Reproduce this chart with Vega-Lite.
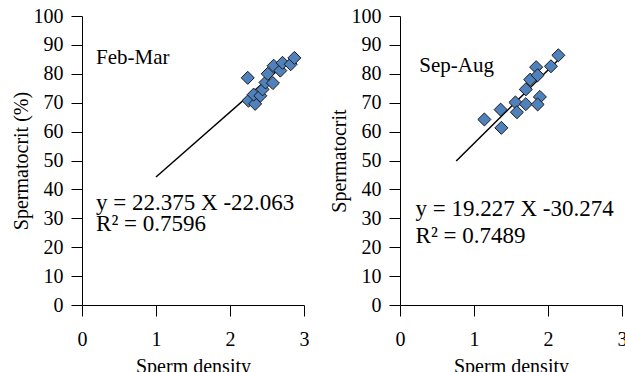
{
  "$schema": "https://vega.github.io/schema/vega-lite/v6.json",
  "padding": {"left": 11, "top": 6, "right": 0, "bottom": 0},
  "background": "white",
  "datasets": {
    "ptsL": [
      {"x": 2.24, "y": 78.6}, {"x": 2.25, "y": 70.7}, {"x": 2.34, "y": 69.6}, {"x": 2.32, "y": 72.8},
      {"x": 2.41, "y": 72.4}, {"x": 2.44, "y": 74.6}, {"x": 2.48, "y": 77.0}, {"x": 2.58, "y": 76.8},
      {"x": 2.51, "y": 80.0}, {"x": 2.59, "y": 82.8}, {"x": 2.68, "y": 81.1}, {"x": 2.71, "y": 83.8},
      {"x": 2.82, "y": 83.3}, {"x": 2.87, "y": 85.5}
    ],
    "ptsR": [
      {"x": 1.14, "y": 64.2}, {"x": 1.36, "y": 67.6}, {"x": 1.37, "y": 61.3}, {"x": 1.56, "y": 70.1},
      {"x": 1.58, "y": 66.7}, {"x": 1.70, "y": 69.5}, {"x": 1.70, "y": 74.6}, {"x": 1.76, "y": 78.0},
      {"x": 1.84, "y": 82.3}, {"x": 1.86, "y": 79.5}, {"x": 1.89, "y": 72.0}, {"x": 1.86, "y": 69.4},
      {"x": 2.04, "y": 82.6}, {"x": 2.14, "y": 86.4}
    ],
    "lineL": [{"x": 1.0, "y": 44.3}, {"x": 2.87, "y": 86.3}],
    "lineR": [{"x": 0.76, "y": 49.8}, {"x": 2.13, "y": 84.6}],
    "labL": [{"x": 0.19, "y": 83.4, "t": "Feb-Mar"}],
    "eqL": [
      {"x": 0.19, "y": 33.0, "t": "y = 22.375 X -22.063"},
      {"x": 0.19, "y": 25.7, "t": "R² = 0.7596"}
    ],
    "labR": [{"x": 0.26, "y": 80.6, "t": "Sep-Aug"}],
    "eqR": [
      {"x": 0.21, "y": 30.7, "t": "y = 19.227 X -30.274"},
      {"x": 0.21, "y": 21.6, "t": "R² = 0.7489"}
    ]
  },
  "config": {
    "view": {"stroke": null},
    "font": "Liberation Serif",
    "axis": {
      "grid": false,
      "domainColor": "#000000",
      "tickColor": "#000000",
      "tickSize": 11,
      "labelFont": "Liberation Serif",
      "labelFontSize": 20,
      "labelColor": "#000000",
      "labelOverlap": false,
      "labelFlush": false,
      "titleFont": "Liberation Serif",
      "titleFontSize": 20,
      "titleFontWeight": "normal",
      "titleColor": "#000000"
    },
    "concat": {"spacing": 20}
  },
  "hconcat": [
    {
      "width": 222,
      "height": 289,
      "encoding": {
        "x": {"field": "x", "type": "quantitative", "scale": {"domain": [0, 3], "nice": false},
              "axis": {"values": [0, 1, 2, 3], "format": "d", "title": "Sperm density", "labelPadding": 13, "titlePadding": 7}},
        "y": {"field": "y", "type": "quantitative", "scale": {"domain": [0, 100], "nice": false},
              "axis": {"values": [0, 10, 20, 30, 40, 50, 60, 70, 80, 90, 100], "format": "d", "title": "Spermatocrit (%)", "labelPadding": 8, "titlePadding": 2}}
      },
      "layer": [
        {
          "data": {"name": "lineL"},
          "mark": {"type": "line", "color": "#000000", "strokeWidth": 1.5}
        },
        {
          "data": {"name": "ptsL"},
          "mark": {"type": "point", "shape": "diamond", "filled": true, "size": 170, "color": "#4F81BD", "stroke": "#1a1a1a", "strokeWidth": 1, "opacity": 1}
        },
        {
          "data": {"name": "labL"},
          "mark": {"type": "text", "align": "left", "baseline": "alphabetic", "font": "Liberation Serif", "fontSize": 21, "color": "#000000"},
          "encoding": {"text": {"field": "t"}}
        },
        {
          "data": {"name": "eqL"},
          "mark": {"type": "text", "align": "left", "baseline": "alphabetic", "font": "Liberation Serif", "fontSize": 23, "color": "#000000"},
          "encoding": {"text": {"field": "t"}}
        }
      ]
    },
    {
      "width": 222,
      "height": 289,
      "encoding": {
        "x": {"field": "x", "type": "quantitative", "scale": {"domain": [0, 3], "nice": false},
              "axis": {"values": [0, 1, 2, 3], "format": "d", "title": "Sperm density", "labelPadding": 13, "titlePadding": 7}},
        "y": {"field": "y", "type": "quantitative", "scale": {"domain": [0, 100], "nice": false},
              "axis": {"values": [0, 10, 20, 30, 40, 50, 60, 70, 80, 90, 100], "format": "d", "title": "Spermatocrit", "labelPadding": 8, "titlePadding": 2}}
      },
      "layer": [
        {
          "data": {"name": "lineR"},
          "mark": {"type": "line", "color": "#000000", "strokeWidth": 1.5}
        },
        {
          "data": {"name": "ptsR"},
          "mark": {"type": "point", "shape": "diamond", "filled": true, "size": 170, "color": "#4F81BD", "stroke": "#1a1a1a", "strokeWidth": 1, "opacity": 1}
        },
        {
          "data": {"name": "labR"},
          "mark": {"type": "text", "align": "left", "baseline": "alphabetic", "font": "Liberation Serif", "fontSize": 21, "color": "#000000"},
          "encoding": {"text": {"field": "t"}}
        },
        {
          "data": {"name": "eqR"},
          "mark": {"type": "text", "align": "left", "baseline": "alphabetic", "font": "Liberation Serif", "fontSize": 23, "color": "#000000"},
          "encoding": {"text": {"field": "t"}}
        }
      ]
    }
  ]
}
